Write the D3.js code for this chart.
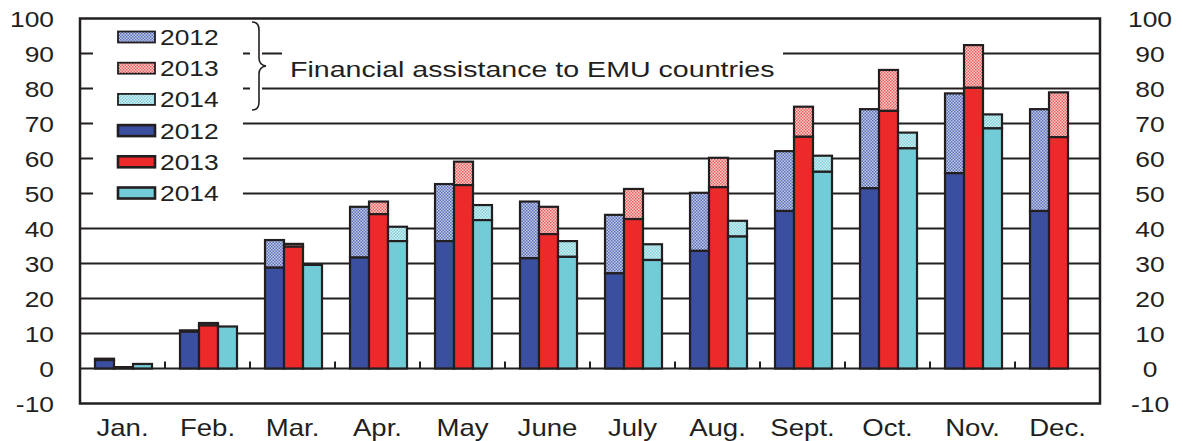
<!DOCTYPE html>
<html>
<head>
<meta charset="utf-8">
<script src="https://cdn.jsdelivr.net/npm/d3@7"></script>
<style>
  body { margin: 0; background: #fff; }
  text { font-family: "Liberation Sans", Arial, sans-serif; fill: #231f20; }
</style>
</head>
<body>
<svg id="chart" width="1183" height="441"></svg>
<script>
// data (solid bars + financial assistance stacked on top)
const months = ["Jan.", "Feb.", "Mar.", "Apr.", "May", "June", "July", "Aug.", "Sept.", "Oct.", "Nov.", "Dec."];
const years = ["2012", "2013", "2014"];
const base2012 = [2.4, 10.5, 28.8, 31.7, 36.4, 31.5, 27.2, 33.6, 45.0, 51.5, 55.8, 45.0];
const base2013 = [0.4, 12.3, 34.8, 44.1, 52.4, 38.4, 42.7, 51.8, 66.2, 73.6, 80.2, 66.1];
const base2014 = [1.3, 12.0, 29.6, 36.4, 42.4, 31.9, 31.0, 37.7, 56.2, 62.9, 68.6, null];
const assist2012 = [0.4, 0.4, 7.9, 14.5, 16.3, 16.2, 16.7, 16.6, 17.1, 22.6, 22.8, 29.1];
const assist2013 = [0.0, 0.7, 0.8, 3.6, 6.7, 7.8, 8.6, 8.4, 8.6, 11.7, 12.2, 12.8];
const assist2014 = [0.0, 0.0, 0.0, 4.1, 4.3, 4.5, 4.5, 4.5, 4.6, 4.5, 4.0, null];
const yTicks = [-10, 0, 10, 20, 30, 40, 50, 60, 70, 80, 90, 100];

const solidColor = {"2012": "#3a4f9f", "2013": "#ec2a2a", "2014": "#72ccd7"};
const hatchColor = {"2012": ["#c3cdea", "#5a6fb8"], "2013": ["#f8cccc", "#e8625f"], "2014": ["#d2f0f3", "#7fd0da"]};
const ink = "#231f20";

const bases = {"2012": base2012, "2013": base2013, "2014": base2014};
const assists = {"2012": assist2012, "2013": assist2013, "2014": assist2014};

const svg = d3.select("#chart");
const left = 80, right = 1100;

const x = d3.scaleBand().domain(months).range([left, right]).padding(0);
const x1 = d3.scaleBand().domain(years).range([0, x.bandwidth()])
    .paddingInner(0).paddingOuter(0.737).align(0.536);
const y = d3.scaleLinear().domain([-10, 100]).range([403.5, 18.5]);

// hatch patterns
const defs = svg.append("defs");
years.forEach(yr => {
    const p = defs.append("pattern")
        .attr("id", "h" + yr)
        .attr("width", 3).attr("height", 3)
        .attr("patternUnits", "userSpaceOnUse");
    p.append("rect").attr("width", 3).attr("height", 3).attr("fill", hatchColor[yr][0]);
    p.append("rect").attr("width", 1.5).attr("height", 1.5).attr("fill", hatchColor[yr][1]);
    p.append("rect").attr("x", 1.5).attr("y", 1.5).attr("width", 1.5).attr("height", 1.5).attr("fill", hatchColor[yr][1]);
});

// stretched text helper (the original font is wide)
function label(g, tx, ty, str, size, anchor, sx) {
    g.append("g")
        .attr("transform", `translate(${tx},${ty}) scale(${sx || 1.2},1)`)
        .append("text")
        .attr("text-anchor", anchor || "start")
        .attr("font-size", size)
        .text(str);
}

// gridlines
svg.append("g").selectAll("line")
    .data(yTicks.filter(d => d > -10 && d < 100))
    .join("line")
    .attr("x1", left).attr("x2", right)
    .attr("y1", d => y(d)).attr("y2", d => y(d))
    .attr("stroke", ink).attr("stroke-width", 2);

// bars
const groups = svg.append("g").selectAll("g")
    .data(months)
    .join("g")
    .attr("transform", d => `translate(${x(d)},0)`);

years.forEach(yr => {
    groups.each(function(m, i) {
        const b = bases[yr][i], a = assists[yr][i];
        if (b == null) return;
        const g = d3.select(this);
        if (a > 0) {
            g.append("rect")
                .attr("x", x1(yr)).attr("width", x1.bandwidth())
                .attr("y", y(b + a)).attr("height", y(b) - y(b + a))
                .attr("fill", `url(#h${yr})`)
                .attr("stroke", ink).attr("stroke-width", 2.2);
        }
        g.append("rect")
            .attr("x", x1(yr)).attr("width", x1.bandwidth())
            .attr("y", y(b)).attr("height", y(0) - y(b))
            .attr("fill", solidColor[yr])
            .attr("stroke", ink).attr("stroke-width", 2.2);
    });
});

// category ticks on the zero line
svg.append("g").selectAll("line")
    .data(months.slice(1))
    .join("line")
    .attr("x1", d => x(d)).attr("x2", d => x(d))
    .attr("y1", y(0)).attr("y2", y(0) - 7)
    .attr("stroke", ink).attr("stroke-width", 2);

// frame
svg.append("rect")
    .attr("x", left).attr("y", y(100))
    .attr("width", right - left).attr("height", y(-10) - y(100))
    .attr("fill", "none").attr("stroke", ink).attr("stroke-width", 2.5);

// axis labels
const axisG = svg.append("g");
yTicks.forEach(t => {
    label(axisG, 54, y(t) + 8, String(t), 22, "end");
    label(axisG, 1150, y(t) + 8, String(t), 22, "middle");
});
months.forEach(m => {
    label(axisG, x(m) + x.bandwidth() / 2, 436, m, 23, "middle");
});

// legend
const leg = svg.append("g");
leg.append("rect").attr("x", 93).attr("y", 20).attr("width", 150).attr("height", 190).attr("fill", "#fff");
const legendItems = years.map(yr => ({yr, hatch: true})).concat(years.map(yr => ({yr, hatch: false})));
legendItems.forEach((d, i) => {
    const cy = 37 + i * 31.2;
    leg.append("rect")
        .attr("x", 118).attr("y", cy - 5.5)
        .attr("width", 37).attr("height", 11)
        .attr("fill", d.hatch ? `url(#h${d.yr})` : solidColor[d.yr])
        .attr("stroke", ink).attr("stroke-width", d.hatch ? 1.8 : 2.6);
    label(leg, 160, cy + 8, d.yr, 22);
});

// brace and annotation
leg.append("rect").attr("x", 250).attr("y", 20).attr("width", 12).attr("height", 92).attr("fill", "#fff");
leg.append("path")
    .attr("d", "M252,22 Q259,22 259,30 L259,58 Q259,65 266,66 Q259,67 259,74 L259,102 Q259,110 252,110")
    .attr("fill", "none").attr("stroke", ink).attr("stroke-width", 1.6);
leg.append("rect").attr("x", 282).attr("y", 48).attr("width", 501).attr("height", 36).attr("fill", "#fff");
label(leg, 290, 77, "Financial  assistance to EMU countries", 22, "start", 1.3);
</script>
</body>
</html>
